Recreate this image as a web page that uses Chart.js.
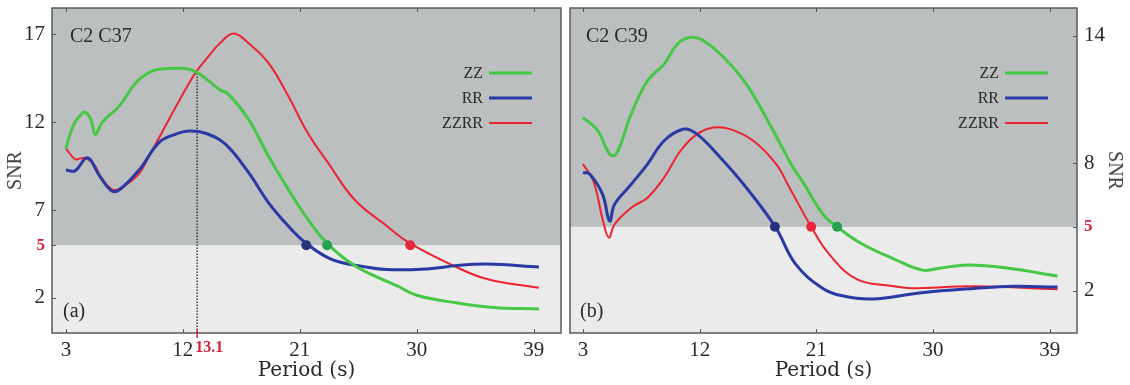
<!DOCTYPE html>
<html>
<head>
<meta charset="utf-8">
<script src="https://cdn.jsdelivr.net/npm/chart.js@4.4.1/dist/chart.umd.min.js"></script>
<style>
  html, body { margin: 0; padding: 0; background: #fff; }
  #wrap { position: relative; width: 1130px; height: 385px; }
  #cA { position: absolute; left: 0; top: 0; }
  #cB { position: absolute; left: 565px; top: 0; }
</style>
</head>
<body>
<div id="wrap">
  <canvas id="cA" width="566" height="385"></canvas>
  <canvas id="cB" width="565" height="385"></canvas>
</div>
<script>
const SERIES = ['ZZ', 'RR', 'ZZRR'];
const SNR_CUT = 5;

// panel (a) C2 C37
const periodA_ZZ = [3, 3.5, 4.0, 4.45, 4.9, 5.27, 5.8, 7.12, 8.4, 9.67, 10.94, 12.2, 13.0, 14.0, 14.76, 15.5, 17.05, 18.57, 20.1, 21.6, 23.1, 25.3, 28.5, 30.0, 33.0, 35.9, 39.4];
const snrA_ZZ    = [10.5, 11.7, 12.3, 12.57, 12.2, 11.3, 12.0, 12.93, 14.26, 14.92, 15.05, 15.05, 14.86, 14.35, 13.875, 13.6, 12.17, 10.09, 8.19, 6.49, 5.1, 3.8, 2.68, 2.15, 1.72, 1.45, 1.37];

const periodA_RR = [3, 3.7, 4.5, 4.85, 5.24, 5.6, 6.5, 7.1, 8.65, 10.18, 11.45, 12.47, 13.74, 15.27, 17.05, 18.57, 20.1, 21.5, 23.4, 25.4, 27.7, 30.8, 33.1, 35.4, 39.4];
const snrA_RR    = [9.28, 9.23, 9.94, 9.9, 9.4, 8.93, 8.1, 8.14, 9.3, 10.85, 11.32, 11.5, 11.37, 10.75, 9.14, 7.44, 6.1, 5.1, 4.2, 3.84, 3.61, 3.65, 3.84, 3.93, 3.76];

const periodA_ZR = [3, 3.7, 4.2, 4.6, 5.24, 5.6, 6.5, 7.1, 8.55, 9.41, 10.94, 12.21, 13.02, 14.0, 14.76, 15.9, 17.05, 18.57, 20.1, 21.6, 23.15, 25.2, 27.5, 29.5, 32.8, 35.4, 39.4];
const snrA_ZR    = [10.5, 9.9, 9.95, 9.94, 9.52, 9.0, 8.2, 8.2, 9.0, 10.09, 12.17, 13.875, 14.86, 15.77, 16.43, 17.05, 16.5, 15.39, 13.5, 11.4, 9.71, 7.6, 6.2, 5.1, 3.84, 3.07, 2.57];

const crossA = [23.1, 21.5, 29.5];          // ZZ, RR, ZZRR reach SNR 5
const xTicksA = [3, 12, 21, 30, 39];
const yTicksA = [2, 5, 7, 12, 17];
const markPeriodA = 13.1;
const markSnrA = 14.86;

// panel (b) C2 C39
const periodB_ZZ = [3, 4.15, 5.06, 5.57, 6.72, 7.98, 9.26, 10.28, 11.3, 12.3, 13.84, 15.6, 17.4, 19.2, 19.9, 21.5, 22.6, 24.5, 27.0, 29.2, 30.6, 32.7, 35.7, 39.6];
const snrB_ZZ    = [10.15, 9.52, 8.42, 8.42, 10.3, 11.88, 12.66, 13.6, 13.92, 13.76, 12.98, 11.72, 9.83, 7.79, 7.16, 5.6, 5.0, 4.2, 3.48, 2.96, 3.06, 3.2, 3.06, 2.68];

const periodB_RR = [3, 3.5, 4.5, 5.06, 5.44, 6.72, 7.98, 9.26, 10.79, 11.8, 13.59, 15.6, 17.83, 19.4, 21.5, 23.0, 25.3, 29.1, 33.2, 36.2, 39.6];
const snrB_RR    = [7.55, 7.5, 6.55, 5.27, 6.06, 7.0, 7.95, 9.05, 9.6, 9.36, 8.26, 6.84, 5.0, 3.24, 2.1, 1.75, 1.6, 1.9, 2.1, 2.2, 2.16];

const periodB_ZR = [3, 3.8, 4.55, 5.0, 5.44, 6.72, 7.98, 9.26, 10.53, 11.8, 13.08, 14.35, 16.13, 17.9, 18.93, 20.6, 22.0, 24.15, 27.0, 28.3, 33.2, 39.6];
const snrB_ZR    = [7.95, 7.16, 5.27, 4.49, 5.12, 5.9, 6.37, 7.32, 8.58, 9.36, 9.67, 9.6, 9.05, 7.95, 6.84, 5.0, 3.7, 2.52, 2.2, 2.11, 2.2, 2.06];

const crossB = [22.6, 17.8, 20.6];
const xTicksB = [3, 12, 21, 30, 39];
const yTicksB = [2, 5, 8, 14];

const COLORS = ['#46c846', '#2a3aa4', '#ec2330'];
const DOT_COLORS = ['#23a050', '#28317e', '#e6283a'];
const WIDTHS = [3, 3, 2];
const RED = '#d2233a';
const TXT = '#2a2a2a';
const SERIF = '"Liberation Serif", "DejaVu Serif", serif';

function pts(xs, ys) { return xs.map((x, i) => ({ x, y: ys[i] })); }

const panelDecor = {
  id: 'panelDecor',
  beforeDatasetsDraw(chart, args, o) {
    const { ctx, chartArea: a, scales: { y } } = chart;
    const yCut = y.getPixelForValue(SNR_CUT);
    ctx.save();
    ctx.fillStyle = '#ebebeb';
    ctx.fillRect(a.left, a.top, a.width, a.height);
    ctx.fillStyle = '#bcbfbf';
    ctx.fillRect(a.left, a.top, a.width, yCut - a.top);
    ctx.restore();
  },
  afterDraw(chart, args, o) {
    const { ctx, chartArea: a, scales: { x, y } } = chart;
    ctx.save();
    // inward tick marks
    ctx.strokeStyle = '#555';
    ctx.lineWidth = 1;
    ctx.beginPath();
    x.ticks.forEach(t => {
      const px = Math.round(x.getPixelForValue(t.value)) + 0.5;
      ctx.moveTo(px, a.bottom); ctx.lineTo(px, a.bottom - 4);
      ctx.moveTo(px, a.top); ctx.lineTo(px, a.top + 4);
    });
    y.ticks.forEach(t => {
      const py = Math.round(y.getPixelForValue(t.value)) + 0.5;
      if (o.side === 'left') { ctx.moveTo(a.left, py); ctx.lineTo(a.left + 4, py); }
      else { ctx.moveTo(a.right, py); ctx.lineTo(a.right - 4, py); }
    });
    ctx.stroke();
    // frame
    ctx.strokeStyle = '#5a5a5a';
    ctx.lineWidth = 1.5;
    ctx.strokeRect(a.left, a.top, a.width, a.height);

    // panel labels
    ctx.fillStyle = TXT;
    ctx.font = '20px ' + SERIF;
    ctx.textBaseline = 'alphabetic';
    ctx.textAlign = 'left';
    ctx.fillText(o.name, a.left + o.nameDx, 42);
    ctx.fillText(o.tag, a.left + o.tagDx, 317);

    // legend
    ctx.font = '16px ' + SERIF;
    ctx.textAlign = 'right';
    ctx.textBaseline = 'middle';
    SERIES.forEach((s, i) => {
      const ly = 73 + i * 25;
      ctx.fillStyle = TXT;
      ctx.fillText(s, a.right - 78, ly + 1);
      ctx.strokeStyle = COLORS[i];
      ctx.lineWidth = WIDTHS[i];
      ctx.beginPath();
      ctx.moveTo(a.right - 72, ly);
      ctx.lineTo(a.right - 29, ly);
      ctx.stroke();
    });

    // highlighted period on x axis
    if (o.mark != null) {
      const px = x.getPixelForValue(o.mark);
      ctx.strokeStyle = RED;
      ctx.lineWidth = 1.5;
      ctx.beginPath();
      ctx.moveTo(px, a.bottom - 3); ctx.lineTo(px, a.bottom + 5);
      ctx.stroke();
      ctx.fillStyle = RED;
      ctx.font = 'bold 16px ' + SERIF;
      ctx.textAlign = 'left';
      ctx.textBaseline = 'top';
      ctx.fillText(String(o.mark), px - 2, a.bottom + 7);
    }
    ctx.restore();
  }
};

function makePanel(id, cfg) {
  const datasets = cfg.lines.map((d, i) => ({
    label: SERIES[i],
    data: pts(d[0], d[1]),
    borderColor: COLORS[i],
    borderWidth: WIDTHS[i],
    pointRadius: 0,
    tension: 0.4,
    fill: false,
    order: 2
  }));
  cfg.cross.forEach((cx, i) => datasets.push({
    label: SERIES[i] + ' cut',
    data: [{ x: cx, y: SNR_CUT }],
    showLine: false,
    pointRadius: 5,
    pointBackgroundColor: DOT_COLORS[i],
    pointBorderWidth: 0,
    order: 1
  }));
  if (cfg.mark != null) datasets.push({
    label: 'mark',
    data: [{ x: cfg.mark, y: 0 }, { x: cfg.mark, y: cfg.markY }],
    borderColor: '#1a1a1a',
    borderWidth: 1.2,
    borderDash: [1.5, 1.5],
    pointRadius: 0,
    order: 3
  });

  const tickFont = c => ({
    family: SERIF,
    size: c.tick && c.tick.value === SNR_CUT ? 17 : 21,
    weight: c.tick && c.tick.value === SNR_CUT ? 'bold' : 'normal'
  });

  return new Chart(document.getElementById(id), {
    type: 'line',
    data: { datasets },
    plugins: [panelDecor],
    options: {
      responsive: false,
      animation: false,
      layout: { padding: cfg.pad },
      plugins: {
        legend: { display: false },
        tooltip: { enabled: false },
        panelDecor: { name: cfg.name, tag: cfg.tag, nameDx: cfg.nameDx, tagDx: cfg.tagDx, mark: cfg.mark, side: cfg.side }
      },
      scales: {
        x: {
          type: 'linear',
          min: cfg.xMin, max: cfg.xMax,
          grid: { display: false, drawTicks: false },
          border: { display: false },
          afterBuildTicks: s => { s.ticks = cfg.xTicks.map(v => ({ value: v })); },
          afterFit: s => { s.height = 52; s.paddingLeft = 0; s.paddingRight = 0; },
          ticks: { autoSkip: false, maxRotation: 0, padding: 5, color: TXT, font: { family: SERIF, size: 21 } },
          title: { display: true, text: 'Period (s)', color: TXT, padding: { top: 0, bottom: 2 }, font: { family: '"DejaVu Serif", serif', size: 20 } }
        },
        y: {
          type: 'linear',
          position: cfg.side,
          min: 0, max: cfg.yMax,
          grid: { display: false, drawTicks: false },
          border: { display: false },
          afterBuildTicks: s => { s.ticks = cfg.yTicks.map(v => ({ value: v })); },
          afterFit: s => { s.width = cfg.yWidth; s.paddingTop = 0; s.paddingBottom = 0; },
          ticks: {
            autoSkip: false,
            padding: 7,
            color: c => c.tick && c.tick.value === SNR_CUT ? RED : TXT,
            font: tickFont
          },
          title: { display: true, text: 'SNR', color: '#444', padding: { top: 4, bottom: 0 }, font: { family: SERIF, size: 20 } }
        }
      }
    }
  });
}

makePanel('cA', {
  lines: [[periodA_ZZ, snrA_ZZ], [periodA_RR, snrA_RR], [periodA_ZR, snrA_ZR]],
  cross: crossA, mark: markPeriodA, markY: markSnrA,
  xTicks: xTicksA, yTicks: yTicksA, xMin: 1.93, xMax: 41.1, yMax: 18.5,
  side: 'left', yWidth: 52, pad: { top: 8, right: 1, left: 0, bottom: 0 },
  name: 'C2 C37', tag: '(a)', nameDx: 18, tagDx: 11
});

makePanel('cB', {
  lines: [[periodB_ZZ, snrB_ZZ], [periodB_RR, snrB_RR], [periodB_ZR, snrB_ZR]],
  cross: crossB, mark: null,
  xTicks: xTicksB, yTicks: yTicksB, xMin: 2.0, xMax: 41.1, yMax: 15.3,
  side: 'right', yWidth: 53, pad: { top: 8, right: 0, left: 0, bottom: 0 },
  name: 'C2 C39', tag: '(b)', nameDx: 16, tagDx: 10
});
</script>
</body>
</html>
